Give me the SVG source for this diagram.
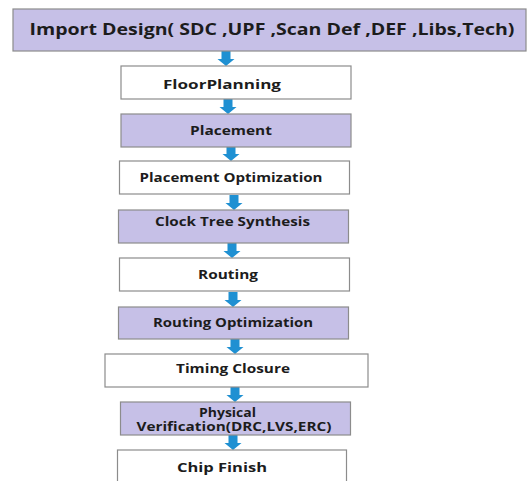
<svg xmlns="http://www.w3.org/2000/svg" width="528" height="481" viewBox="0 0 528 481">
  <style>
    .box { stroke: #8c8c8c; stroke-width: 1.2; }
    .lav { fill: #c6c0e7; }
    .wht { fill: #ffffff; }
    .lbl { font-family: "Open Sans", "Liberation Sans", sans-serif; font-weight: bold; font-size: 11.5px; fill: #1c1c1c; text-anchor: middle; }
    .title { font-family: "Open Sans", "Liberation Sans", sans-serif; font-weight: bold; font-size: 15.5px; fill: #1c1c1c; text-anchor: middle; }
    .arrow { fill: #1f90d2; }
  </style>
  <defs>
    <!-- block arrow, tip at origin, pointing down -->
    <path id="blk" d="M-4.5,-15 H4.5 V-7 H8.5 L0,0 L-8.5,-7 H-4.5 Z"/>
  </defs>
  <rect width="528" height="481" fill="#ffffff"/>

  <g id="connectors" class="arrow">
    <use href="#blk" x="226" y="66"/>
    <use href="#blk" x="228" y="114"/>
    <use href="#blk" x="231" y="161"/>
    <use href="#blk" x="234" y="210"/>
    <use href="#blk" x="232" y="258"/>
    <use href="#blk" x="233" y="307"/>
    <use href="#blk" x="235" y="354"/>
    <use href="#blk" x="235" y="402"/>
    <use href="#blk" x="233" y="450"/>
  </g>

  <g id="import-design">
    <rect class="box lav" x="13" y="9" width="513" height="42"/>
    <text class="title" x="272" y="34.5" textLength="485" lengthAdjust="spacingAndGlyphs">Import Design( SDC ,UPF ,Scan Def ,DEF ,Libs,Tech)</text>
  </g>

  <g id="floorplanning">
    <rect class="box wht" x="121" y="66" width="230" height="33"/>
    <text class="lbl" x="222" y="88.5" textLength="118" lengthAdjust="spacingAndGlyphs">FloorPlanning</text>
  </g>

  <g id="placement">
    <rect class="box lav" x="121" y="114" width="230" height="33"/>
    <text class="lbl" x="231" y="134.5" textLength="82" lengthAdjust="spacingAndGlyphs">Placement</text>
  </g>

  <g id="placement-optimization">
    <rect class="box wht" x="119.5" y="161" width="230" height="33"/>
    <text class="lbl" x="231" y="182" textLength="183" lengthAdjust="spacingAndGlyphs">Placement Optimization</text>
  </g>

  <g id="clock-tree-synthesis">
    <rect class="box lav" x="118.5" y="210" width="230" height="33"/>
    <text class="lbl" x="232.5" y="226" textLength="155" lengthAdjust="spacingAndGlyphs">Clock Tree Synthesis</text>
  </g>

  <g id="routing">
    <rect class="box wht" x="119.5" y="258" width="230" height="33"/>
    <text class="lbl" x="228" y="278.5" textLength="60" lengthAdjust="spacingAndGlyphs">Routing</text>
  </g>

  <g id="routing-optimization">
    <rect class="box lav" x="118.5" y="307" width="230" height="32"/>
    <text class="lbl" x="233" y="326.5" textLength="160" lengthAdjust="spacingAndGlyphs">Routing Optimization</text>
  </g>

  <g id="timing-closure">
    <rect class="box wht" x="105" y="354" width="263" height="33"/>
    <text class="lbl" x="233" y="373" textLength="114" lengthAdjust="spacingAndGlyphs">Timing Closure</text>
  </g>

  <g id="physical-verification">
    <rect class="box lav" x="120.5" y="402" width="230" height="33"/>
    <text class="lbl" x="227.5" y="417" textLength="57" lengthAdjust="spacingAndGlyphs">Physical</text>
    <text class="lbl" x="234" y="431" textLength="195" lengthAdjust="spacingAndGlyphs">Verification(DRC,LVS,ERC)</text>
  </g>

  <g id="chip-finish">
    <rect class="box wht" x="117.5" y="450" width="229" height="40"/>
    <text class="lbl" x="222" y="472" textLength="90" lengthAdjust="spacingAndGlyphs">Chip Finish</text>
  </g>
</svg>
